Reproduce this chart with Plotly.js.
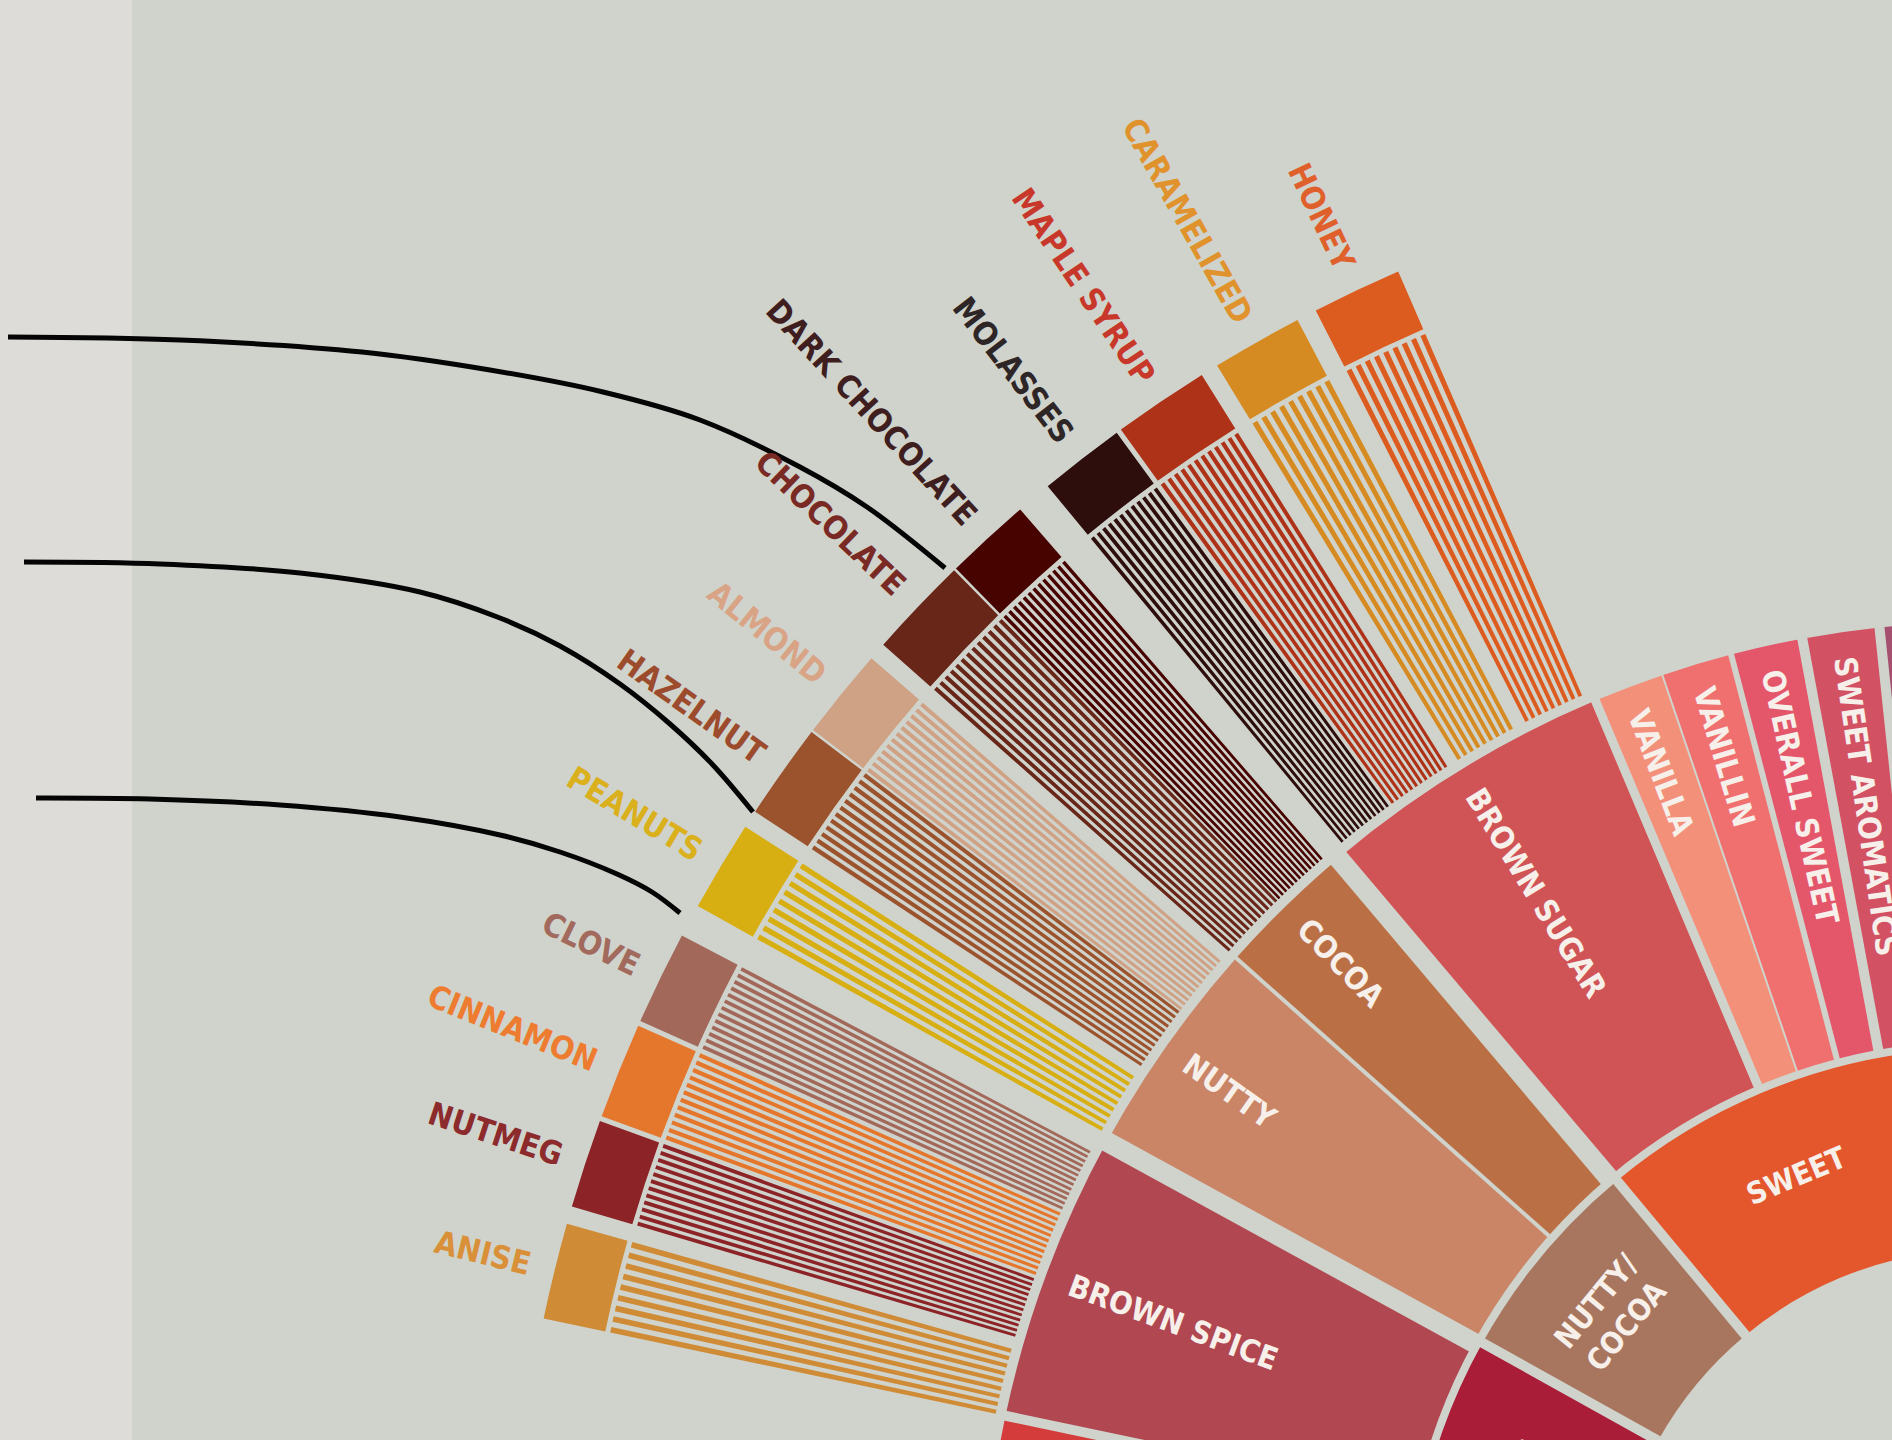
<!DOCTYPE html>
<html>
<head>
<meta charset="utf-8">
<script src="https://cdn.plot.ly/plotly-3.0.1.min.js"></script>
<style>
  html, body { margin:0; padding:0; width:1892px; height:1440px; overflow:hidden; background:#d0d3cc; }
  #chart { position:absolute; }
</style>
</head>
<body>
<div id="chart"></div>
<script>
// ---------------- DATA (angles in degrees, counter-clockwise from east) ----------------
// Inner ring: core categories
const coreNames  = ['SWEET', 'NUTTY/<br>COCOA', 'SPICES'];
const coreFrom   = [95.8, 129.75, 150.9];
const coreTo     = [129.75, 150.9, 177.6];
const coreColors = ['#e4562c', '#a8765f', '#a91d38'];

// Middle ring: sub-categories (empty name = segment whose label lies outside the picture)
const midNames   = ['', 'SWEET AROMATICS', 'OVERALL SWEET', 'VANILLIN', 'VANILLA', 'BROWN SUGAR', 'COCOA', 'NUTTY', 'BROWN SPICE', '', ''];
const midBounds  = [80, 96.0, 100.47, 104.65, 108.76, 112.87, 130.2, 138.4, 151.3, 168.1, 173.0, 177.6];
const midColors  = ['#a5506e', '#d25263', '#e4566a', '#f07070', '#f3907a', '#d05456', '#ba7044', '#c98566', '#b04751', '#d33c3b', '#b8323a'];

// Outer ring: leaf flavours
const leafNames  = ['HONEY', 'CARAMELIZED', 'MAPLE SYRUP', 'MOLASSES', 'DARK CHOCOLATE', 'CHOCOLATE',
                    'ALMOND', 'HAZELNUT', 'PEANUTS', 'CLOVE', 'CINNAMON', 'NUTMEG', 'ANISE'];
const leafFrom   = [113.45, 117.8, 122.1, 126.1, 130.9, 134.4, 139.1, 142.8, 147.3, 152.2, 156.1, 160.1, 164.3];
const leafTo     = [117.0, 121.4, 125.9, 129.5, 134.3, 138.4, 142.7, 146.6, 150.9, 155.9, 159.9, 163.6, 168.1];
const leafStripes = [9, 9, 12, 12, 13, 13, 12, 12, 9, 13, 12, 12, 9];
const leafColors = ['#dc5c20', '#d68a22', '#ae3218', '#2e0e0c', '#470300', '#672618',
                    '#cfa185', '#9b532d', '#d7af12', '#a2695a', '#e5772d', '#8b2327', '#cf8b35'];
const leafLabelColors = ['#e0602c', '#e0922c', '#c8382a', '#2e2626', '#3e1e1e', '#7a2a24',
                    '#d9a486', '#9c4c2c', '#dab01c', '#a26a5c', '#ee7c30', '#8c2a2c', '#d99038'];

// Leader lines (window pixels)
const leader1X = [8, 180, 362, 490, 603, 700, 800, 867, 945];
const leader1Y = [337, 340, 352, 370, 392, 420, 467, 507, 568];
const leader2X = [24, 160, 300, 420, 500, 560, 620, 670, 712, 753];
const leader2Y = [562, 564, 573, 592, 618, 646, 684, 724, 764, 812];
const leader3X = [36, 150, 280, 400, 500, 560, 617, 652, 680];
const leader3Y = [798, 799, 805, 817, 835, 852, 874, 892, 913];

// ---------------- STYLE / GEOMETRY ----------------
const FONT = '"Liberation Sans Narrow", "DejaVu Sans Condensed", "Liberation Sans", Arial, sans-serif';
const BG = '#d0d3cc';
const STRIP_BG = '#dddcd8';
const SIZE = 2000;           // polar radius in px (square div)
const CX = 1984, CY = 1622;  // wheel centre in window px
const R_CORE = [373, 574], R_MID = [582, 1000], R_STRIPE = [1010, 1404], R_BLOCK = [1409, 1472];
const R_LEAF_LABEL = 1497, R_MID_LABEL = 975, R_CORE_LABEL = 484;
const coreGapPx = 10;
const midGapPx = [10, 10, 6, 2, 9, 20, 4, 20, 10, 10];
const STRIPE_FILL = 0.55;
const LEAF_FONT = 32, MID_FONT = 31, CORE_FONT = 30, WEIGHT = 'bold';
const LABEL_WHITE = '#f7efe9';

const el = document.getElementById('chart');
el.style.left = (CX - SIZE) + 'px';
el.style.top = (CY - SIZE) + 'px';
el.style.width = SIZE + 'px';
el.style.height = SIZE + 'px';

const ctx = document.createElement('canvas').getContext('2d');
function textLen(t, size) {
  ctx.font = WEIGHT + ' ' + size + 'px ' + FONT;
  return Math.max.apply(null, t.split('<br>').map(s => ctx.measureText(s).width));
}
const rad = d => d * Math.PI / 180;
const px = (r, th) => CX + r * Math.cos(rad(th));
const py = (r, th) => CY - r * Math.sin(rad(th));

const traces = [];
function barTrace(theta, width, base, len, colors) {
  return {type: 'barpolar', theta: theta, width: width, base: base, r: len,
          marker: {color: colors, line: {width: 0}}, hoverinfo: 'skip', showlegend: false};
}

// core ring
traces.push(barTrace(
  coreFrom.map((a, i) => (a + coreTo[i]) / 2),
  coreFrom.map((a, i) => coreTo[i] - a),
  coreFrom.map(() => R_CORE[0]), coreFrom.map(() => R_CORE[1] - R_CORE[0]), coreColors));

// middle ring
const midFrom = midBounds.slice(0, -1), midTo = midBounds.slice(1);
traces.push(barTrace(
  midFrom.map((a, i) => (a + midTo[i]) / 2),
  midFrom.map((a, i) => midTo[i] - a),
  midFrom.map(() => R_MID[0]), midFrom.map(() => R_MID[1] - R_MID[0]), midColors));

// leaf stripes
const sT = [], sW = [], sB = [], sR = [], sC = [];
leafFrom.forEach((a, i) => {
  const span = leafTo[i] - a, n = leafStripes[i];
  const w = STRIPE_FILL * span / n;
  for (let k = 0; k < n; k++) {
    sT.push(a + w / 2 + k * (span - w) / (n - 1));
    sW.push(w); sB.push(R_STRIPE[0]); sR.push(R_STRIPE[1] - R_STRIPE[0]); sC.push(leafColors[i]);
  }
});
traces.push(barTrace(sT, sW, sB, sR, sC));

// leaf blocks
traces.push(barTrace(
  leafFrom.map((a, i) => (a + leafTo[i]) / 2),
  leafFrom.map((a, i) => leafTo[i] - a),
  leafFrom.map(() => R_BLOCK[0]), leafFrom.map(() => R_BLOCK[1] - R_BLOCK[0]), leafColors));

// separators (constant-width gaps)
function sep(theta, r0, r1, w) {
  return {type: 'scatterpolar', mode: 'lines', theta: [theta, theta], r: [r0, r1],
          line: {color: BG, width: w}, hoverinfo: 'skip', showlegend: false};
}
coreFrom.concat([coreTo[coreTo.length - 1]]).forEach(b => traces.push(sep(b, R_CORE[0] - 2, R_CORE[1] + 2, coreGapPx)));
midBounds.slice(1, -1).forEach((b, i) => traces.push(sep(b, R_MID[0] - 2, R_MID[1] + 2, midGapPx[i])));

// leader lines
[[leader1X, leader1Y], [leader2X, leader2Y], [leader3X, leader3Y]].forEach(([x, y]) => {
  traces.push({type: 'scatter', x: x, y: y, mode: 'lines', xaxis: 'x', yaxis: 'y',
    line: {color: '#050505', width: 5, shape: 'spline', smoothing: 1}, hoverinfo: 'skip', showlegend: false});
});

// labels
const annotations = [];
function addLabel(text, r, th, angle, size, color) {
  annotations.push({text: text, x: px(r, th), y: py(r, th), xref: 'x', yref: 'y',
    showarrow: false, textangle: angle, xanchor: 'center', yanchor: 'middle',
    font: {family: FONT, size: size, color: color, weight: WEIGHT}});
}
leafNames.forEach((n, i) => {
  const th = (leafFrom[i] + leafTo[i]) / 2;
  addLabel(n, R_LEAF_LABEL + textLen(n, LEAF_FONT) / 2, th, 180 - th, LEAF_FONT, leafLabelColors[i]);
});
midNames.forEach((n, i) => {
  if (!n) return;
  const th = (midFrom[i] + midTo[i]) / 2;
  addLabel(n, R_MID_LABEL - textLen(n, MID_FONT) / 2, th, 180 - th, MID_FONT, LABEL_WHITE);
});
coreNames.forEach((n, i) => {
  const th = (coreFrom[i] + coreTo[i]) / 2;
  addLabel(n, R_CORE_LABEL, th, 90 - th, CORE_FONT, LABEL_WHITE);
});

const layout = {
  width: SIZE, height: SIZE, margin: {l: 0, r: 0, t: 0, b: 0, pad: 0},
  paper_bgcolor: BG, plot_bgcolor: 'rgba(0,0,0,0)', showlegend: false,
  xaxis: {range: [CX - SIZE, CX], visible: false, fixedrange: true},
  yaxis: {range: [CY, CY - SIZE], visible: false, fixedrange: true},
  polar: {
    domain: {x: [0, 1], y: [0, 1]}, sector: [90, 180], bgcolor: 'rgba(0,0,0,0)', barmode: 'overlay',
    radialaxis: {visible: false, range: [0, SIZE], autorange: false, showgrid: false, showline: false, showticklabels: false},
    angularaxis: {visible: false, rotation: 0, direction: 'counterclockwise', showgrid: false, showline: false, showticklabels: false}
  },
  shapes: [{type: 'rect', xref: 'x', yref: 'y', x0: CX - SIZE, x1: 132, y0: CY - SIZE, y1: CY,
            fillcolor: STRIP_BG, line: {width: 0}, layer: 'below'}],
  annotations: annotations
};

Plotly.newPlot(el, traces, layout, {staticPlot: true, displayModeBar: false});
</script>
</body>
</html>
